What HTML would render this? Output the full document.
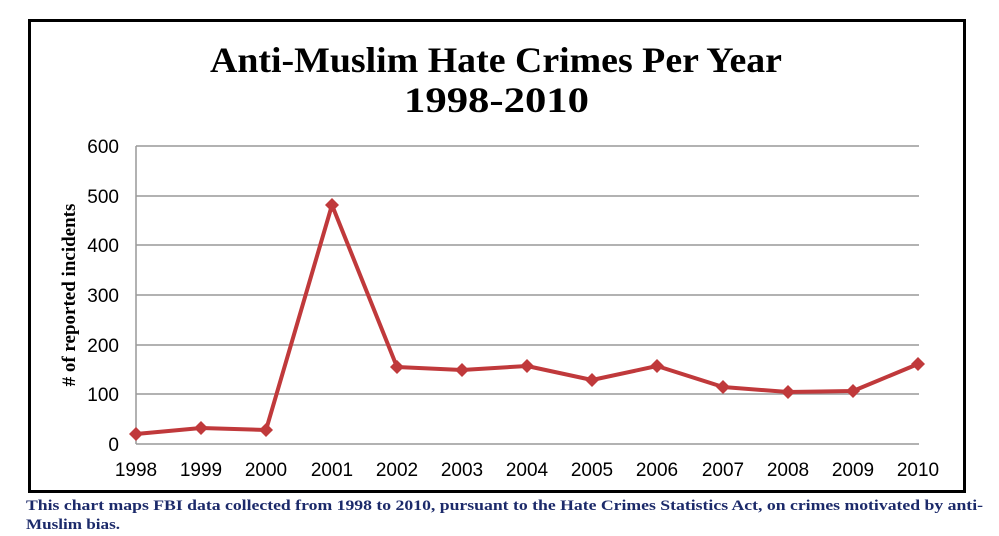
<!DOCTYPE html>
<html><head><style>body{margin:0;background:#fff;}</style></head><body>
<svg width="999" height="536" xmlns="http://www.w3.org/2000/svg" style="display:block">
<rect x="29.5" y="20.5" width="935" height="471" fill="#fff" stroke="#000" stroke-width="3"/>
<text x="210" y="72" textLength="572" lengthAdjust="spacingAndGlyphs" font-family="Liberation Serif, serif" font-weight="bold" font-size="36">Anti-Muslim Hate Crimes Per Year</text>
<text x="404" y="112" textLength="185" lengthAdjust="spacingAndGlyphs" font-family="Liberation Serif, serif" font-weight="bold" font-size="36">1998-2010</text>
<g stroke="#999" stroke-width="1.5">
<line x1="136" y1="146" x2="919" y2="146"/><line x1="136" y1="196" x2="919" y2="196"/>
<line x1="136" y1="245" x2="919" y2="245"/><line x1="136" y1="295" x2="919" y2="295"/>
<line x1="136" y1="345" x2="919" y2="345"/><line x1="136" y1="394" x2="919" y2="394"/>
<line x1="136" y1="444" x2="919" y2="444"/><line x1="136" y1="146" x2="136" y2="444"/>
</g>
<g font-family="Liberation Sans, sans-serif" font-size="19" text-anchor="end" fill="#000">
<text x="119" y="153">600</text><text x="119" y="203">500</text><text x="119" y="252">400</text>
<text x="119" y="302">300</text><text x="119" y="352">200</text><text x="119" y="401">100</text><text x="119" y="451">0</text>
</g>
<g font-family="Liberation Sans, sans-serif" font-size="19" text-anchor="middle" fill="#000">
<text x="136" y="476">1998</text><text x="201" y="476">1999</text><text x="266" y="476">2000</text><text x="332" y="476">2001</text><text x="397" y="476">2002</text><text x="462" y="476">2003</text><text x="527" y="476">2004</text><text x="592" y="476">2005</text><text x="657" y="476">2006</text><text x="723" y="476">2007</text><text x="788" y="476">2008</text><text x="853" y="476">2009</text><text x="918" y="476">2010</text>
</g>
<text transform="translate(75,295) rotate(-90)" text-anchor="middle" font-family="Liberation Serif, serif" font-weight="bold" font-size="19">#  of reported incidents</text>
<polyline fill="none" stroke="#c0393b" stroke-width="4" stroke-linejoin="round" points="136,434 201,428 266,430 332,205 397,367 462,370 527,366 592,380 657,366 723,387 788,392 853,391 918,364"/>
<g fill="#c0393b">
<path d="M136,427l7,7l-7,7l-7,-7z"/><path d="M201,421l7,7l-7,7l-7,-7z"/><path d="M266,423l7,7l-7,7l-7,-7z"/><path d="M332,198l7,7l-7,7l-7,-7z"/><path d="M397,360l7,7l-7,7l-7,-7z"/><path d="M462,363l7,7l-7,7l-7,-7z"/><path d="M527,359l7,7l-7,7l-7,-7z"/><path d="M592,373l7,7l-7,7l-7,-7z"/><path d="M657,359l7,7l-7,7l-7,-7z"/><path d="M723,380l7,7l-7,7l-7,-7z"/><path d="M788,385l7,7l-7,7l-7,-7z"/><path d="M853,384l7,7l-7,7l-7,-7z"/><path d="M918,357l7,7l-7,7l-7,-7z"/>
</g>
<g font-family="Liberation Serif, serif" font-weight="bold" font-size="15" fill="#1c2a6a">
<text x="26" y="510" textLength="957" lengthAdjust="spacingAndGlyphs">This chart maps FBI data collected from 1998 to 2010, pursuant to the Hate Crimes Statistics Act, on crimes motivated by anti-</text>
<text x="26" y="529" textLength="94" lengthAdjust="spacingAndGlyphs">Muslim bias.</text>
</g>
</svg>
</body></html>
